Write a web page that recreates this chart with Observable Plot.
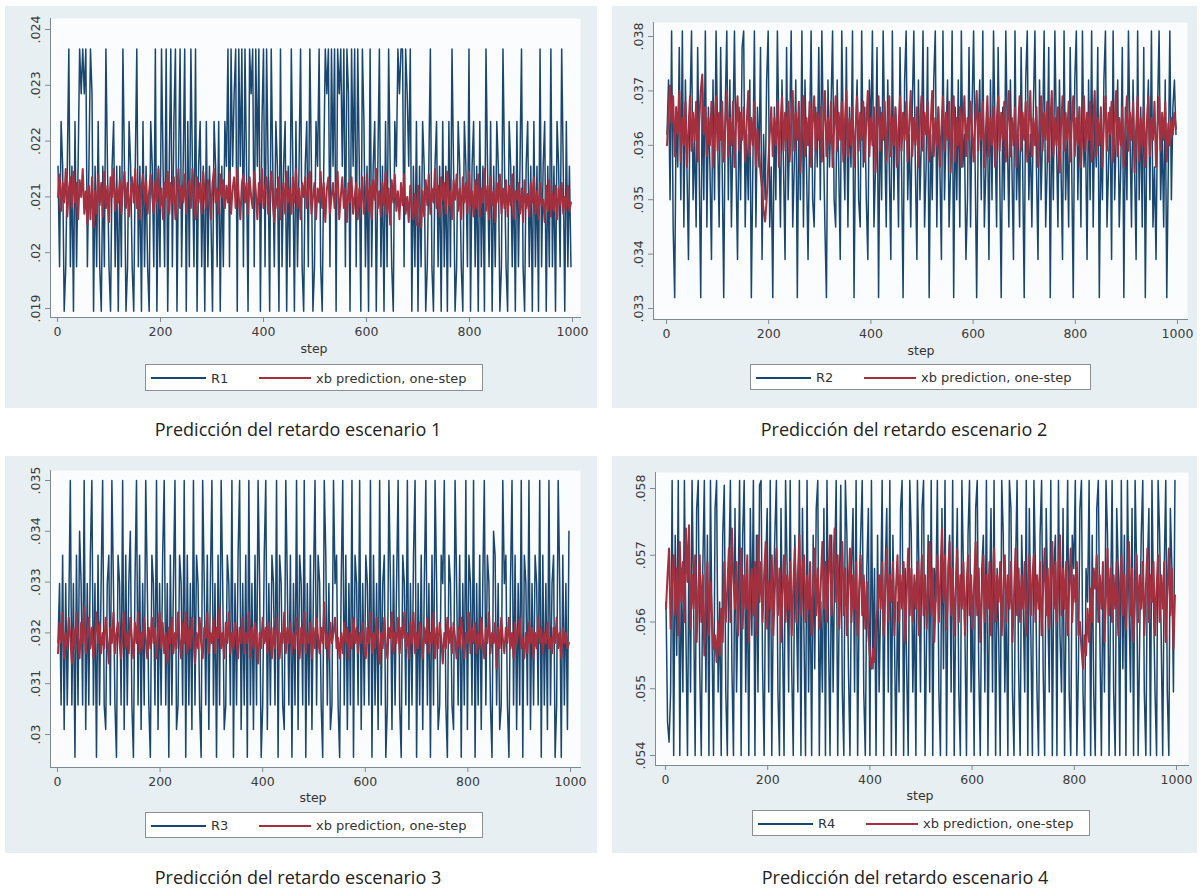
<!DOCTYPE html>
<html><head><meta charset="utf-8">
<script src="https://cdn.jsdelivr.net/npm/d3@7"></script>
<script src="https://cdn.jsdelivr.net/npm/@observablehq/plot@0.6"></script>
<style>
body{margin:0;background:#fff;}
#root{position:relative;width:1200px;height:890px;background:#fff;overflow:hidden;font-family:"DejaVu Sans",sans-serif;}
.panel{position:absolute;background:#e8eff2;}
.panel svg{position:absolute;left:0;top:0;overflow:visible;}
.xlabel{position:absolute;font-size:12.5px;color:#333;transform:translate(-50%,-50%);white-space:nowrap;}
.legend{position:absolute;background:#fff;border:1px solid #8a8f93;box-sizing:border-box;}
.legend .sw{position:absolute;height:2px;top:12px;}
.legend .lt{position:absolute;top:50%;font-size:13px;color:#333;transform:translateY(-50%);white-space:nowrap;}
.caption{position:absolute;font-family:"Open Sans",sans-serif;font-size:18px;color:#222;transform:translate(-50%,-50%);white-space:nowrap;}
</style></head><body><div id="root"></div>
<script>
// ---------------- data (one sample every 3rd step) ----------------
// series values are stored in units of 0.00001 (e.g. 2155 = .02155)
const unit = 1e-5;
const steps = d3.range(1, 1000, 3); // 333 step indices
const xTicks = [0, 200, 400, 600, 800, 1000];
const yTicks1 = [.019, .02, .021, .022, .023, .024];
const yTicks2 = [.033, .034, .035, .036, .037, .038];
const yTicks3 = [.03, .031, .032, .033, .034, .035];
const yTicks4 = [.054, .055, .056, .057, .058];
const seriesNames = ["R1", "R2", "R3", "R4"];
const predName = "xb prediction, one-step";
const xName = "step";
const captions = ["Predicción del retardo escenario 1", "Predicción del retardo escenario 2",
                  "Predicción del retardo escenario 3", "Predicción del retardo escenario 4"];

const r1 = [
2155,1975,2235,2155,1895,1975,2155,2365,1975,2155,
1895,2235,1975,2155,2365,2285,2365,2285,2365,1975,
2155,2365,2285,1895,2155,1975,2235,1975,1895,2155,
1975,2365,2155,1975,1895,2155,2235,1975,2155,1895,
2155,1975,2365,2155,1895,1975,2235,2155,1975,1895,
2155,2365,1975,2155,1895,2235,1975,2155,1975,1895,
2235,2155,1975,2365,1895,2155,1975,2365,2155,1975,
2365,1895,2155,2365,1975,2235,2365,1895,2155,2365,
1975,2155,2365,1895,2235,1975,2365,2155,1975,2365,
1895,2155,2235,1975,2155,1895,2235,1975,2155,2060,
1895,2235,2155,1975,2235,1895,2155,1975,2235,2155,
2365,1975,2365,2155,2285,2365,1895,2365,2155,2365,
1975,2365,2155,1895,2365,2285,2365,1975,2365,2155,
2365,1895,2235,2365,1975,2365,2155,1895,2365,2155,
1975,2235,2155,1895,2365,1975,2155,2235,1895,2155,
1975,2365,2155,1895,2235,1975,2155,2365,1975,1895,
2155,2235,1975,2365,2155,1895,1975,2235,2155,2365,
1975,1895,2155,2365,2285,2365,1975,2365,2155,2365,
1895,2365,2285,2365,2155,2365,1975,2365,2285,1895,
2365,2155,2365,1975,2365,2155,1895,2365,2235,1975,
2155,1895,2365,1975,2155,2235,1895,2155,2365,1975,
2155,1895,2235,1975,2365,2155,1975,1895,2235,2155,
2365,2285,2365,2365,1975,2365,2285,2155,2365,1895,
2155,1975,2235,1895,2155,1975,2235,2155,1895,1975,
2155,2365,1975,1895,2155,2235,1975,2155,1895,2235,
1975,2155,1895,2235,1975,2365,2155,1895,1975,2235,
2155,1975,1895,2235,2155,1975,2365,1895,2155,2235,
1975,2155,1895,2235,1975,2155,1895,2365,2155,1975,
2235,1895,2155,1975,2235,2155,1895,1975,2365,2155,
1975,1895,2235,2155,1975,2155,1895,2235,1975,2155,
2365,1975,1895,2155,2235,1975,2155,1895,2235,1975,
2155,1895,2365,1975,2155,2235,1895,2155,1975,2365,
1975,2155,1895,2235,2155,1975,2365,2155,1895,2235,
1975,2155,1975];
const pred1 = [
2100,2140,2075,2125,2090,2150,2065,2115,2135,2080,
2145,2090,2125,2060,2130,2100,2150,2070,2110,2050,
2120,2060,2135,2045,2110,2070,2140,2085,2125,2065,
2145,2080,2120,2055,2135,2100,2150,2075,2115,2090,
2130,2070,2115,2145,2080,2125,2065,2105,2135,2090,
2150,2080,2120,2060,2115,2140,2090,2130,2070,2110,
2140,2100,2070,2130,2090,2150,2080,2115,2060,2125,
2100,2145,2070,2125,2090,2135,2060,2110,2150,2080,
2120,2090,2140,2070,2115,2130,2080,2150,2100,2060,
2135,2090,2125,2070,2145,2100,2080,2130,2110,2060,
2125,2150,2090,2115,2070,2140,2100,2130,2080,2120,
2090,2145,2070,2115,2135,2080,2150,2100,2060,2125,
2140,2090,2125,2070,2135,2100,2080,2145,2110,2060,
2125,2090,2150,2080,2115,2135,2070,2100,2145,2090,
2055,2115,2080,2135,2060,2100,2125,2070,2145,2090,
2115,2070,2135,2090,2150,2080,2115,2060,2125,2100,
2135,2080,2115,2145,2070,2100,2125,2060,2115,2090,
2145,2080,2125,2055,2115,2135,2070,2100,2125,2080,
2115,2145,2060,2100,2135,2080,2115,2055,2125,2090,
2135,2070,2100,2125,2060,2115,2080,2135,2070,2095,
2140,2075,2120,2060,2130,2095,2150,2080,2110,2065,
2125,2085,2145,2070,2115,2050,2130,2090,2140,2075,
2110,2060,2125,2085,2140,2070,2100,2055,2120,2080,
2060,2105,2050,2120,2075,2045,2110,2065,2130,2085,
2140,2070,2115,2090,2150,2080,2120,2065,2135,2095,
2125,2070,2145,2085,2110,2060,2130,2095,2140,2075,
2115,2060,2135,2090,2125,2070,2145,2085,2110,2065,
2130,2080,2140,2065,2115,2090,2150,2075,2120,2060,
2135,2085,2110,2055,2125,2090,2140,2070,2115,2080,
2130,2065,2120,2085,2140,2060,2110,2095,2125,2070,
2115,2055,2130,2080,2105,2065,2125,2090,2135,2070,
2110,2060,2125,2085,2095,2055,2120,2075,2130,2065,
2105,2075,2120,2060,2115,2085,2125,2070,2100,2080,
2120,2075,2090];

const r2 = [
3620,3720,3500,3810,3450,3320,3670,3560,3780,3500,
3810,3450,3720,3560,3390,3670,3810,3500,3620,3450,
3780,3560,3320,3720,3500,3810,3450,3670,3560,3390,
3720,3500,3810,3620,3450,3780,3560,3320,3670,3810,
3500,3720,3450,3620,3810,3560,3390,3670,3500,3780,
3810,3450,3620,3500,3720,3320,3560,3810,3450,3670,
3560,3780,3390,3620,3500,3720,3810,3450,3560,3320,
3670,3500,3810,3620,3450,3720,3560,3390,3780,3500,
3620,3810,3450,3560,3720,3320,3670,3500,3810,3450,
3720,3560,3390,3620,3810,3500,3450,3670,3560,3780,
3500,3810,3620,3450,3320,3720,3560,3670,3810,3500,
3450,3720,3560,3390,3810,3620,3500,3780,3450,3670,
3560,3810,3320,3620,3720,3500,3450,3810,3560,3670,
3500,3390,3720,3620,3810,3450,3560,3780,3320,3670,
3500,3810,3620,3450,3720,3560,3390,3810,3500,3670,
3620,3450,3780,3560,3320,3720,3810,3500,3620,3450,
3670,3810,3560,3390,3720,3500,3620,3810,3450,3560,
3780,3320,3620,3500,3720,3810,3450,3670,3560,3390,
3810,3500,3620,3720,3450,3560,3810,3320,3670,3500,
3720,3450,3810,3560,3620,3390,3500,3780,3450,3670,
3810,3560,3320,3620,3720,3500,3810,3450,3560,3670,
3390,3720,3500,3810,3620,3450,3780,3560,3320,3670,
3500,3810,3620,3450,3720,3560,3390,3810,3500,3620,
3450,3780,3560,3320,3720,3810,3500,3620,3450,3670,
3810,3560,3390,3720,3500,3620,3810,3450,3560,3780,
3320,3670,3500,3810,3620,3450,3720,3560,3390,3810,
3500,3620,3450,3780,3560,3320,3720,3810,3500,3670,
3450,3810,3560,3620,3390,3720,3500,3810,3450,3670,
3560,3780,3320,3620,3500,3720,3810,3450,3560,3670,
3390,3810,3500,3620,3720,3450,3560,3780,3320,3670,
3500,3810,3620,3450,3720,3560,3390,3810,3500,3670,
3450,3780,3320,3620,3720,3500,3810,3450,3560,3390,
3670,3810,3500,3620,3450,3720,3320,3560,3810,3500,
3670,3720,3620];
const pred2 = [
3600,3660,3710,3640,3690,3580,3670,3620,3700,3570,
3650,3600,3680,3560,3630,3690,3590,3660,3610,3680,
3570,3640,3700,3730,3620,3670,3580,3650,3600,3680,
3560,3630,3690,3590,3660,3610,3680,3570,3640,3700,
3580,3650,3600,3680,3560,3640,3690,3590,3660,3610,
3670,3570,3640,3700,3580,3650,3600,3680,3560,3630,
3590,3550,3520,3480,3460,3500,3560,3620,3670,3580,
3650,3600,3680,3560,3640,3690,3590,3660,3610,3680,
3570,3640,3700,3590,3660,3610,3680,3550,3630,3690,
3580,3650,3600,3680,3560,3640,3690,3590,3660,3610,
3670,3570,3640,3700,3580,3650,3600,3680,3560,3630,
3690,3590,3660,3610,3680,3570,3640,3700,3580,3650,
3600,3670,3560,3630,3690,3590,3660,3610,3680,3570,
3640,3700,3580,3650,3600,3670,3550,3630,3690,3590,
3660,3610,3680,3570,3640,3690,3580,3650,3600,3670,
3560,3630,3690,3590,3660,3610,3680,3570,3640,3700,
3580,3650,3600,3670,3560,3640,3690,3590,3660,3620,
3680,3570,3640,3700,3580,3650,3600,3670,3560,3630,
3690,3590,3660,3610,3680,3550,3630,3690,3570,3650,
3600,3670,3560,3640,3690,3580,3650,3610,3680,3630,
3570,3640,3700,3590,3660,3610,3680,3560,3630,3690,
3580,3650,3600,3670,3560,3640,3690,3590,3660,3610,
3680,3570,3640,3700,3580,3650,3600,3670,3560,3630,
3690,3590,3660,3610,3680,3570,3640,3700,3580,3650,
3600,3670,3560,3630,3690,3590,3660,3610,3680,3570,
3640,3700,3580,3650,3600,3670,3550,3630,3690,3590,
3660,3610,3680,3570,3640,3690,3580,3650,3600,3670,
3560,3630,3690,3590,3660,3610,3680,3570,3640,3700,
3580,3650,3600,3670,3560,3640,3690,3590,3660,3620,
3680,3570,3640,3700,3580,3650,3600,3670,3560,3630,
3690,3590,3660,3610,3680,3550,3630,3690,3570,3650,
3600,3670,3560,3640,3690,3580,3650,3610,3680,3560,
3630,3690,3590,3660,3610,3680,3570,3640,3600,3650,
3620,3660,3630];

const r3 = [
3180,3297,3058,3353,3010,3297,3058,3240,3500,3058,
3297,2955,3353,3058,3400,3297,3058,3500,3010,3297,
3058,3353,3500,3058,3297,2955,3353,3058,3297,3500,
3058,3010,3297,3353,3058,3500,3297,3058,2955,3353,
3297,3058,3500,3010,3353,3058,3297,3400,3058,2955,
3297,3500,3058,3353,3010,3297,3058,3500,3297,3058,
2955,3353,3297,3058,3500,3010,3297,3058,3353,3500,
3058,3297,2955,3353,3058,3297,3500,3010,3058,3353,
3297,3058,3500,2955,3353,3058,3297,3010,3500,3058,
3353,3297,3058,2955,3500,3297,3058,3353,3010,3297,
3500,3058,3297,2955,3353,3058,3500,3297,3010,3058,
3353,3297,3058,3500,2955,3297,3058,3353,3500,3010,
3297,3058,3353,2955,3500,3058,3297,3010,3353,3058,
3500,3297,2955,3058,3353,3500,3010,3297,3058,3353,
3297,3058,3500,2955,3353,3297,3058,3010,3500,3297,
3058,3353,2955,3297,3058,3500,3010,3353,3297,3058,
3500,2955,3297,3058,3353,3010,3297,3500,3058,3353,
3297,3058,2955,3500,3353,3058,3297,3010,3058,3500,
3297,3353,3058,2955,3297,3500,3058,3353,3010,3297,
3058,3500,2955,3353,3297,3058,3500,3010,3297,3058,
3353,3297,3058,3500,2955,3353,3058,3297,3010,3500,
3058,3297,3353,2955,3058,3500,3297,3010,3353,3058,
3297,3500,3058,2955,3353,3297,3058,3500,3010,3297,
3058,3353,3500,2955,3297,3058,3353,3010,3297,3500,
3058,3297,2955,3353,3058,3500,3297,3010,3058,3353,
3297,3500,3058,2955,3353,3297,3058,3010,3500,3297,
3058,3353,2955,3297,3058,3500,3010,3353,3297,3058,
3500,2955,3297,3058,3353,3010,3297,3500,3058,3353,
3297,3058,2955,3400,3353,3058,3297,3010,3058,3500,
3297,3353,3058,2955,3297,3500,3058,3353,3010,3297,
3058,3500,2955,3353,3297,3058,3500,3010,3297,3058,
3353,3297,3058,3500,2955,3353,3058,3297,3010,3500,
3058,3297,3353,2955,3058,3500,3297,2955,3353,3058,
3297,3010,3400];
const pred3 = [
3160,3220,3180,3240,3150,3200,3170,3230,3190,3140,
3210,3170,3240,3190,3150,3220,3180,3250,3160,3200,
3230,3170,3210,3150,3190,3240,3180,3220,3160,3200,
3170,3230,3190,3140,3210,3180,3240,3160,3200,3220,
3180,3150,3210,3240,3170,3200,3160,3230,3190,3150,
3220,3180,3240,3160,3200,3170,3230,3190,3150,3210,
3170,3230,3180,3210,3150,3200,3240,3170,3220,3160,
3200,3140,3210,3180,3230,3160,3200,3170,3240,3190,
3150,3220,3180,3240,3160,3210,3170,3230,3190,3140,
3200,3170,3230,3180,3150,3210,3190,3240,3160,3200,
3180,3230,3160,3210,3190,3250,3170,3200,3150,3220,
3180,3240,3160,3200,3170,3220,3190,3150,3210,3180,
3230,3160,3200,3180,3240,3150,3210,3170,3220,3190,
3140,3200,3170,3230,3180,3210,3160,3220,3190,3150,
3210,3170,3230,3190,3150,3200,3180,3240,3160,3210,
3180,3220,3160,3200,3170,3230,3190,3150,3210,3180,
3240,3160,3200,3180,3220,3150,3210,3170,3230,3190,
3160,3210,3180,3260,3170,3200,3150,3220,3180,3200,
3230,3170,3190,3150,3200,3160,3220,3180,3210,3150,
3200,3170,3230,3180,3210,3160,3200,3180,3220,3170,
3150,3210,3180,3240,3160,3200,3170,3230,3190,3140,
3200,3170,3230,3180,3150,3210,3190,3240,3160,3200,
3180,3230,3160,3210,3190,3240,3170,3200,3150,3220,
3180,3240,3160,3200,3170,3220,3190,3150,3210,3180,
3230,3160,3200,3180,3240,3150,3210,3170,3220,3190,
3140,3200,3170,3230,3180,3210,3160,3220,3190,3150,
3210,3170,3230,3190,3150,3200,3180,3240,3160,3210,
3180,3220,3160,3200,3170,3230,3190,3150,3210,3180,
3240,3160,3200,3180,3220,3130,3210,3170,3230,3190,
3160,3210,3180,3230,3170,3200,3150,3220,3180,3200,
3230,3170,3190,3150,3200,3160,3220,3180,3210,3150,
3200,3170,3230,3180,3210,3160,3200,3180,3220,3170,
3190,3160,3210,3180,3230,3170,3200,3150,3210,3180,
3200,3170,3180];

const r4 = [
5630,5450,5420,5495,5812,5400,5730,5550,5812,5400,
5680,5495,5812,5580,5400,5730,5495,5812,5630,5400,
5770,5812,5530,5400,5680,5812,5495,5730,5400,5812,
5580,5400,5770,5812,5495,5630,5400,5730,5805,5495,
5400,5680,5812,5530,5400,5770,5495,5630,5812,5400,
5730,5812,5495,5680,5400,5770,5580,5812,5400,5730,
5495,5805,5812,5530,5400,5680,5770,5495,5812,5400,
5630,5730,5812,5495,5400,5770,5580,5400,5812,5680,
5495,5812,5530,5400,5730,5630,5495,5812,5400,5770,
5580,5400,5812,5495,5680,5400,5730,5530,5770,5812,
5400,5630,5495,5770,5400,5812,5580,5400,5730,5495,
5680,5812,5400,5630,5805,5495,5400,5812,5730,5530,
5400,5680,5770,5495,5812,5400,5630,5730,5812,5495,
5400,5680,5770,5400,5812,5530,5680,5400,5730,5495,
5630,5812,5400,5680,5770,5495,5812,5400,5730,5580,
5400,5630,5495,5770,5812,5400,5680,5530,5400,5812,
5730,5495,5630,5400,5812,5680,5495,5770,5812,5400,
5580,5730,5495,5812,5400,5680,5630,5812,5495,5400,
5770,5530,5812,5400,5680,5730,5495,5812,5400,5630,
5770,5495,5400,5812,5680,5580,5400,5730,5812,5495,
5630,5400,5770,5812,5530,5400,5680,5730,5495,5812,
5400,5630,5770,5495,5812,5400,5680,5580,5400,5812,
5730,5495,5630,5400,5812,5770,5495,5400,5680,5812,
5530,5400,5730,5630,5495,5812,5400,5770,5580,5400,
5812,5680,5495,5400,5730,5812,5530,5400,5770,5630,
5495,5812,5400,5680,5730,5400,5812,5580,5495,5770,
5400,5630,5812,5495,5400,5730,5680,5812,5400,5530,
5770,5812,5495,5400,5680,5630,5812,5400,5730,5495,
5400,5770,5812,5580,5400,5680,5495,5812,5730,5400,
5630,5812,5495,5400,5770,5680,5400,5812,5530,5730,
5400,5812,5630,5495,5770,5400,5812,5680,5400,5580,
5730,5812,5495,5400,5680,5770,5400,5812,5630,5495,
5400,5812,5730,5580,5400,5680,5812,5495,5400,5770,
5680,5495,5812];
const pred4 = [
5620,5670,5710,5590,5660,5700,5610,5680,5580,5720,
5630,5690,5600,5740,5660,5745,5590,5670,5620,5700,
5570,5650,5700,5600,5670,5550,5630,5690,5580,5660,
5610,5560,5580,5540,5600,5550,5620,5570,5690,5600,
5650,5710,5600,5740,5660,5620,5690,5580,5650,5710,
5590,5670,5620,5700,5570,5650,5680,5610,5690,5580,
5730,5630,5690,5600,5670,5720,5590,5660,5620,5700,
5580,5650,5710,5610,5680,5570,5640,5700,5600,5670,
5620,5690,5580,5650,5710,5600,5670,5730,5610,5680,
5700,5600,5670,5620,5690,5580,5650,5710,5610,5680,
5590,5660,5720,5620,5690,5600,5670,5730,5610,5680,
5740,5630,5700,5590,5660,5720,5610,5680,5580,5650,
5710,5600,5670,5620,5690,5580,5650,5700,5610,5670,
5590,5660,5580,5550,5530,5560,5540,5600,5620,5670,
5620,5690,5580,5650,5710,5600,5670,5630,5690,5580,
5650,5700,5600,5670,5620,5690,5570,5640,5710,5610,
5680,5600,5670,5620,5690,5580,5650,5700,5610,5670,
5590,5660,5720,5610,5680,5570,5640,5700,5600,5670,
5740,5630,5700,5590,5660,5720,5610,5680,5580,5650,
5710,5600,5670,5620,5690,5580,5650,5700,5610,5670,
5590,5660,5720,5610,5680,5570,5640,5700,5600,5670,
5620,5690,5580,5650,5710,5600,5670,5630,5690,5580,
5650,5700,5600,5670,5620,5690,5570,5640,5710,5610,
5680,5600,5670,5620,5690,5580,5650,5700,5610,5670,
5700,5600,5670,5620,5690,5580,5650,5710,5610,5680,
5590,5660,5720,5620,5690,5600,5670,5730,5610,5680,
5620,5690,5580,5650,5710,5600,5670,5630,5690,5580,
5600,5560,5530,5580,5550,5620,5570,5650,5600,5680,
5650,5700,5600,5670,5620,5690,5570,5640,5710,5610,
5680,5600,5670,5620,5690,5580,5650,5700,5610,5670,
5590,5660,5720,5610,5680,5570,5640,5700,5600,5670,
5620,5690,5580,5650,5710,5600,5670,5630,5690,5580,
5650,5700,5600,5670,5620,5690,5570,5640,5710,5610,
5680,5560,5640];

// ---------------- layout (positions / styles only) ----------------
const seriesColor = "#1a476f", predColor = "#a3303f", axisColor = "#7e8a92";
const panels = [
  {R: r1, P: pred1, yT: yTicks1, left: 5, top: 6, w: 592, h: 402, mL: 45, mT: 12, mR: 17, mB: 91,
   xr: [52, 567], yr: [302, 23], stepAt: [314, 348], leg: [145, 364, 338, 27], capAt: [298, 429]},
  {R: r2, P: pred2, yT: yTicks2, left: 612, top: 6, w: 585, h: 402, mL: 41, mT: 16, mR: 10, mB: 89,
   xr: [54, 565], yr: [302, 30], stepAt: [921, 350], leg: [750, 364, 341, 26], capAt: [904, 429]},
  {R: r3, P: pred3, yT: yTicks3, left: 5, top: 456, w: 592, h: 397, mL: 45, mT: 14, mR: 17, mB: 86,
   xr: [52, 565], yr: [278, 24], stepAt: [313, 797], leg: [145, 812, 338, 26], capAt: [298, 877]},
  {R: r4, P: pred4, yT: yTicks4, left: 612, top: 456, w: 585, h: 397, mL: 43, mT: 16, mR: 9, mB: 88,
   xr: [53, 564], yr: [299, 32], stepAt: [920, 795], leg: [752, 810, 338, 26], capAt: [905, 877]}
];

const fmt = d => d3.format(".3~f")(d).replace(/^0\./, ".");
const root = document.getElementById("root");

function el(tag, cls, css, text) {
  const e = document.createElement(tag);
  if (cls) e.className = cls;
  Object.assign(e.style, css || {});
  if (text != null) e.textContent = text;
  return e;
}

panels.forEach((L, k) => {
  const table = steps.map((s, i) => ({step: s, r: L.R[i] * unit, p: L.P[i] * unit}));
  const panel = el("div", "panel", {left: L.left + "px", top: L.top + "px", width: L.w + "px", height: L.h + "px"});
  const svg = Plot.plot({
    width: L.w, height: L.h,
    marginLeft: L.mL, marginTop: L.mT, marginRight: L.mR, marginBottom: L.mB,
    style: {background: "transparent", fontFamily: "DejaVu Sans, sans-serif", fontSize: "12.5px", color: "#3a3a3a", overflow: "visible"},
    x: {domain: [0, 1000], range: L.xr},
    y: {domain: [L.yT[0], L.yT[L.yT.length - 1]], range: L.yr},
    marks: [
      Plot.frame({fill: "#fbfcfd", stroke: "none"}),
      Plot.line(table, {x: "step", y: "r", stroke: seriesColor, strokeWidth: 1.5}),
      Plot.line(table, {x: "step", y: "p", stroke: predColor, strokeWidth: 2}),
      Plot.frame({anchor: "left", stroke: axisColor}),
      Plot.frame({anchor: "bottom", stroke: axisColor}),
      Plot.axisY({ticks: L.yT, anchor: "left", tickSize: 5, tickPadding: 6, tickRotate: -90, tickFormat: fmt, label: null, stroke: axisColor}),
      Plot.axisX({ticks: xTicks, anchor: "bottom", tickSize: 5, tickPadding: 5, tickFormat: d => String(d), label: null, stroke: axisColor})
    ]
  });
  panel.appendChild(svg);
  root.appendChild(panel);

  // x-axis title
  root.appendChild(el("div", "xlabel", {left: L.stepAt[0] + "px", top: L.stepAt[1] + "px"}, xName));

  // legend
  const [lx, ly, lw, lh] = L.leg;
  const lg = el("div", "legend", {left: lx + "px", top: ly + "px", width: lw + "px", height: lh + "px"});
  lg.appendChild(el("div", "sw", {left: "5px", width: "55px", background: seriesColor}));
  lg.appendChild(el("div", "lt", {left: "65px"}, seriesNames[k]));
  lg.appendChild(el("div", "sw", {left: "113px", width: "52px", background: predColor}));
  lg.appendChild(el("div", "lt", {left: "170px"}, predName));
  root.appendChild(lg);

  // caption
  root.appendChild(el("div", "caption", {left: L.capAt[0] + "px", top: L.capAt[1] + "px"}, captions[k]));
});
</script></body></html>
